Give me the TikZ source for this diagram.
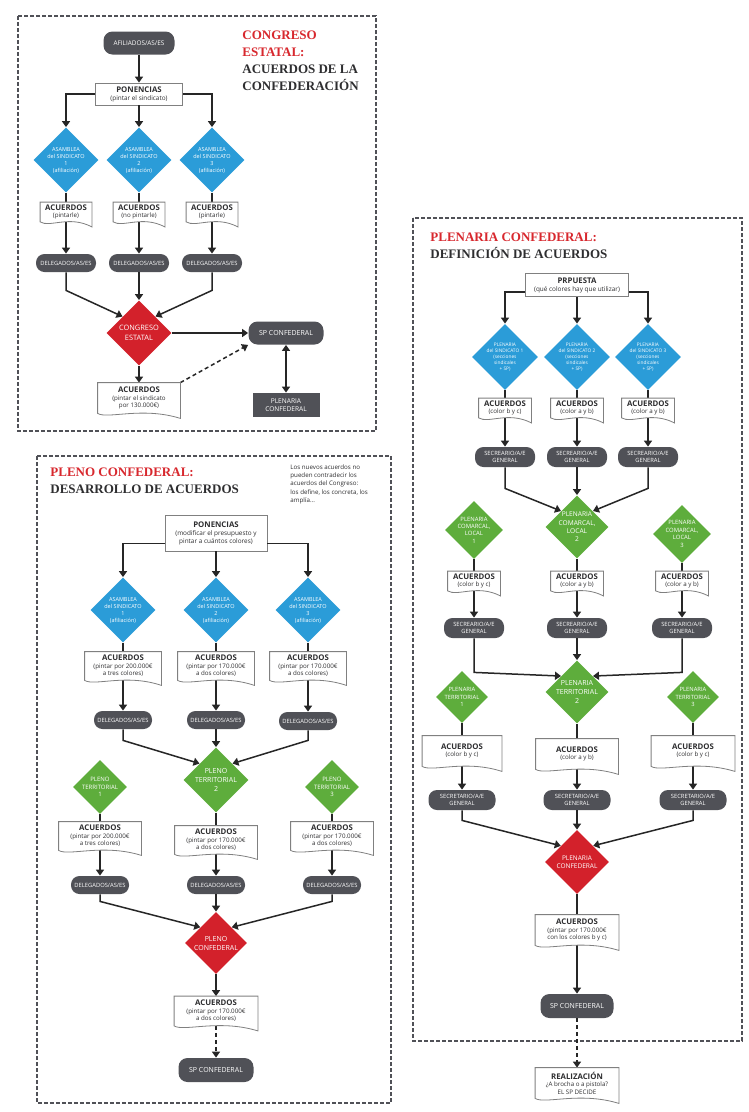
\documentclass[tikz,border=0pt]{standalone}
\usepackage{fontspec}
\setmainfont{Open Sans}
\newfontfamily\serifbold{Liberation Serif}
\usetikzlibrary{shapes.geometric,arrows.meta,calc}

\definecolor{gris}{HTML}{505157}
\definecolor{azulsind}{HTML}{2B9CD8}
\definecolor{verde}{HTML}{5EAD3C}
\definecolor{rojo}{HTML}{D3212B}
\definecolor{rojotit}{HTML}{D8282E}
\definecolor{texto}{HTML}{2E2E30}
\definecolor{borde}{HTML}{808080}

\newcommand{\cabecera}[1]{{\fontsize{7.8}{9}\selectfont\bfseries #1}}

\begin{document}
\begin{tikzpicture}[x=1pt, y=-1pt, auto, thick]
\tikzstyle{marco}=[draw=gris, line width=1.3pt, dash pattern=on 4pt off 2pt]
\tikzstyle{titulo}=[anchor=north west, align=left, inner sep=0pt, text=texto, font=\serifbold\bfseries\fontsize{13}{17}\selectfont]
\tikzstyle{nota}=[anchor=north west, align=left, inner sep=0pt, text=texto, font=\fontsize{6.2}{8.3}\selectfont]
\tikzstyle{pill}=[fill=gris, text=white, rounded corners=8.5pt, align=center, inner sep=1pt, font=\fontsize{5.8}{7}\selectfont]
\tikzstyle{caja}=[draw=borde, line width=0.8pt, fill=white, align=center, inner sep=2pt, text=texto, font=\fontsize{6.4}{8}\selectfont]
\tikzstyle{doc}=[align=center, inner sep=1pt, text=texto, font=\fontsize{6.2}{7.6}\selectfont]
\tikzstyle{docline}=[draw=borde, line width=0.8pt]
\tikzstyle{azul}=[diamond, aspect=1, fill=azulsind, text=white, inner sep=-3pt, align=center, font=\fontsize{5.5}{7}\selectfont, minimum size=65pt]
\tikzstyle{verd}=[azul, fill=verde]
\tikzstyle{roj}=[azul, fill=rojo]
\tikzstyle{flecha}=[line width=1.5pt, draw=black!85, -{Triangle[length=6pt,width=8pt]}]
\tikzstyle{linea}=[line width=1.5pt, draw=black!85]

\fill[white] (0,0) rectangle (748,1112);
\useasboundingbox (0,0) rectangle (748,1112);

% congreso estatal
\draw[marco] (18,16) rectangle (376,431);
\node[titulo] (tit1) at (242,30) {\textcolor{rojotit}{CONGRESO}\\\textcolor{rojotit}{ESTATAL:}\\ACUERDOS DE LA\\CONFEDERACIÓN};
\node[pill, rounded corners=9pt, minimum width=71pt, minimum height=23pt, font=\fontsize{6.4}{7.5}\selectfont] (afi) at (139,43) {AFILIADOS/AS/ES};
\node[caja, minimum width=87pt, minimum height=22pt] (pon1) at (139,94) {\cabecera{PONENCIAS}\\(pintar el sindicato)};
\foreach \place/\name/\num in {{(66,160)/as1/1},{(139,160)/as2/2},{(212,160)/as3/3}}
  \node[azul] (\name) at \place {ASAMBLEA\\del SINDICATO\\\num\\(afiliación)};
\foreach \place/\name/\txt in {{(66,212)/ac1/(pintarle)},{(139,212)/ac2/(no pintarle)},{(212,212)/ac3/(pintarle)}}
  \node[doc, minimum width=51pt, minimum height=19pt] (\name) at \place {\cabecera{ACUERDOS}\\\txt};
\foreach \place/\name in {{(66,263)/de1},{(139,263)/de2},{(212,263)/de3}}
  \node[pill, minimum width=60pt, minimum height=18pt] (\name) at \place {DELEGADOS/AS/ES};
\node[roj, font=\fontsize{7.4}{9.5}\selectfont] (con) at (139,333) {CONGRESO\\ESTATAL};
\node[pill, rounded corners=9pt, minimum width=75pt, minimum height=23pt, font=\fontsize{7}{8}\selectfont] (sp1) at (286,333) {SP CONFEDERAL};
\node[pill, rounded corners=0pt, minimum width=67pt, minimum height=24pt, font=\fontsize{6.6}{8.5}\selectfont] (pl1) at (286,405) {PLENARIA\\CONFEDERAL};
\node[doc, minimum width=82pt, minimum height=30pt] (ac4) at (139,398) {\cabecera{ACUERDOS}\\(pintar el sindicato\\por 130.000€)};

\foreach \source/\dest in {afi/pon1,pon1/as2,ac1/de1,ac2/de2,ac3/de3,de2/con,con/sp1,con/ac4}
  \draw[flecha] (\source) -- (\dest);
\foreach \source/\dest in {as1/ac1,as2/ac2,as3/ac3}
  \draw[linea] (\source) -- (\dest);
\draw[flecha] (pon1.west) -| (as1);
\draw[flecha] (pon1.east) -| (as3);
\draw[flecha] (de1.south) -- ++(0,18) -- (con.north west);
\draw[flecha] (de3.south) -- ++(0,18) -- (con.north east);
\draw[line width=1.5pt, draw=black!85, {Triangle[length=6pt,width=8pt]}-{Triangle[length=6pt,width=8pt]}] (sp1) -- (pl1);
\draw[flecha, dash pattern=on 4pt off 3pt] (ac4.north east) -- (sp1.south west);

% pleno confederal
\draw[marco] (37,456) rectangle (391,1103);
\node[titulo] (tit2) at (50,467) {\textcolor{rojotit}{PLENO CONFEDERAL:}\\DESARROLLO DE ACUERDOS};
\node[nota] (nota) at (290,464) {Los nuevos acuerdos no\\pueden contradecir los\\acuerdos del Congreso:\\los define, los concreta, los\\amplía...};
\node[caja, minimum width=102pt, minimum height=36pt] (pon2) at (216,533) {\cabecera{PONENCIAS}\\(modificar el presupuesto y\\pintar a cuántos colores)};
\foreach \place/\name/\num in {{(123,610)/sb1/1},{(216,610)/sb2/2},{(308,610)/sb3/3}}
  \node[azul] (\name) at \place {ASAMBLEA\\del SINDICATO\\\num\\(afiliación)};
\foreach \place/\name/\txt in {{(123,666)/pa1/(pintar por 200.000€\\a tres colores)},{(216,666)/pa2/(pintar por 170.000€\\a dos colores)},{(308,666)/pa3/(pintar por 170.000€\\a dos colores)}}
  \node[doc, minimum width=76pt, minimum height=28pt] (\name) at \place {\cabecera{ACUERDOS}\\\txt};
\foreach \place/\name in {{(123,720)/dl1},{(216,720)/dl2},{(308,721)/dl3}}
  \node[pill, minimum width=58pt, minimum height=18pt] (\name) at \place {DELEGADOS/AS/ES};
\node[verd, font=\fontsize{7}{9}\selectfont] (pt2) at (216,780) {PLENO\\TERRITORIAL\\2};
\foreach \place/\name/\num in {{(100,787)/pt1/1},{(332,787)/pt3/3}}
  \node[verd, minimum size=54pt, font=\fontsize{6}{7.6}\selectfont] (\name) at \place {PLENO\\TERRITORIAL\\\num};
\foreach \place/\name/\txt in {{(100,836)/pb1/(pintar por 200.000€\\a tres colores)},{(216,840)/pb2/(pintar por 170.000€\\a dos colores)},{(332,836)/pb3/(pintar por 170.000€\\a dos colores)}}
  \node[doc, minimum width=82pt, minimum height=28pt] (\name) at \place {\cabecera{ACUERDOS}\\\txt};
\foreach \place/\name in {{(100,885)/dm1},{(216,885)/dm2},{(332,885)/dm3}}
  \node[pill, minimum width=58pt, minimum height=18pt] (\name) at \place {DELEGADOS/AS/ES};
\node[roj, minimum size=62pt, font=\fontsize{7}{9}\selectfont] (pc) at (216,943) {PLENO\\CONFEDERAL};
\node[doc, minimum width=83pt, minimum height=29pt] (pf) at (216,1011) {\cabecera{ACUERDOS}\\(pintar por 170.000€\\a dos colores)};
\node[pill, rounded corners=9pt, minimum width=75pt, minimum height=24pt, font=\fontsize{7}{8}\selectfont] (sp2) at (216,1070) {SP CONFEDERAL};

\foreach \source/\dest in {pon2/sb2,pa1/dl1,pa2/dl2,pa3/dl3,dl2/pt2,pb1/dm1,pb2/dm2,pb3/dm3,dm2/pc,pc/pf}
  \draw[flecha] (\source) -- (\dest);
\foreach \source/\dest in {sb1/pa1,sb2/pa2,sb3/pa3,pt1/pb1,pt2/pb2,pt3/pb3}
  \draw[linea] (\source) -- (\dest);
\draw[flecha] ($(pon2.south west)+(0,-8)$) -| (sb1);
\draw[flecha] ($(pon2.south east)+(0,-8)$) -| (sb3);
\draw[flecha] (dl1.south) -- ++(0,11) -- (pt2.north west);
\draw[flecha] (dl3.south) -- ++(0,10) -- (pt2.north east);
\draw[flecha] (dm1.south) -- ++(0,7) -- (pc.north west);
\draw[flecha] (dm3.south) -- ++(0,7) -- (pc.north east);
\draw[flecha, dash pattern=on 4pt off 3pt] (pf) -- (sp2);

% plenaria confederal
\draw[marco] (413,218) rectangle (742,1041);
\node[titulo] (tit3) at (430,232) {\textcolor{rojotit}{PLENARIA CONFEDERAL:}\\DEFINICIÓN DE ACUERDOS};
\node[caja, minimum width=103pt, minimum height=23pt] (prp) at (577,285) {\cabecera{PRPUESTA}\\(qué colores hay que utilizar)};
\foreach \place/\name/\num in {{(505,357)/ps1/1},{(577,357)/ps2/2},{(648,357)/ps3/3}}
  \node[azul, minimum size=66pt, font=\fontsize{4.8}{6}\selectfont] (\name) at \place {PLENARIA\\del SINDICATO \num\\(secciones\\sindicales\\+ SP)};
\foreach \place/\name/\txt in {{(505,408)/r1/(color b y c)},{(577,408)/r2/(color a y b)},{(648,408)/r3/(color a y b)}}
  \node[doc, minimum width=52pt, minimum height=19pt] (\name) at \place {\cabecera{ACUERDOS}\\\txt};
\foreach \place/\name in {{(505,457)/s1},{(577,457)/s2},{(648,457)/s3}}
  \node[pill, minimum width=60pt, minimum height=20pt] (\name) at \place {SECREARIO/A/E\\GENERAL};
\node[verd, minimum size=63pt, font=\fontsize{6.6}{8.3}\selectfont] (cl2) at (577,527) {PLENARIA\\COMARCAL,\\LOCAL\\2};
\foreach \place/\name/\num in {{(474,530)/cl1/1},{(682,534)/cl3/3}}
  \node[verd, minimum size=58pt, font=\fontsize{5.9}{7.4}\selectfont] (\name) at \place {PLENARIA\\COMARCAL,\\LOCAL\\\num};
\foreach \place/\name/\txt in {{(474,581)/r4/(color b y c)},{(577,581)/r5/(color a y b)},{(682,581)/r6/(color a y b)}}
  \node[doc, minimum width=52pt, minimum height=19pt] (\name) at \place {\cabecera{ACUERDOS}\\\txt};
\foreach \place/\name in {{(474,628)/t1},{(577,628)/t2},{(682,628)/t3}}
  \node[pill, minimum width=60pt, minimum height=20pt] (\name) at \place {SECREARIO/A/E\\GENERAL};
\node[verd, minimum size=63pt, font=\fontsize{7}{9}\selectfont] (tr2) at (577,692) {PLENARIA\\TERRITORIAL\\2};
\foreach \place/\name/\num in {{(462,697)/tr1/1},{(693,697)/tr3/3}}
  \node[verd, minimum size=52pt, font=\fontsize{5.8}{7.8}\selectfont] (\name) at \place {PLENARIA\\TERRITORIAL\\\num};
\node[doc, minimum width=79pt, minimum height=30pt] (r7) at (462,751) {\cabecera{ACUERDOS}\\(color b y c)};
\node[doc, minimum width=82pt, minimum height=30pt] (r8) at (577,754) {\cabecera{ACUERDOS}\\(color a y b)};
\node[doc, minimum width=83pt, minimum height=30pt] (r9) at (693,751) {\cabecera{ACUERDOS}\\(color b y c)};
\foreach \place/\name in {{(462,800)/u1},{(577,800)/u2},{(693,800)/u3}}
  \node[pill, minimum width=67pt, minimum height=20pt] (\name) at \place {SECRETARIO/A/E\\GENERAL};
\node[roj, minimum size=64pt, font=\fontsize{6.5}{8.5}\selectfont] (pcr) at (577,862) {PLENARIA\\CONFEDERAL};
\node[doc, minimum width=83pt, minimum height=30pt] (r10) at (577,930) {\cabecera{ACUERDOS}\\(pintar por 170.000€\\con los colores b y c)};
\node[pill, rounded corners=9pt, minimum width=73pt, minimum height=24pt, font=\fontsize{7}{8}\selectfont] (sp3) at (577,1006) {SP CONFEDERAL};
\node[doc, minimum width=83pt, minimum height=30pt] (real) at (577,1083) {\cabecera{REALIZACIÓN}\\¿A brocha o a pistola?\\EL SP DECIDE};

\foreach \source/\dest in {prp/ps2,r1/s1,r2/s2,r3/s3,s2/cl2,r4/t1,r5/t2,r6/t3,t2/tr2,r7/u1,r8/u2,r9/u3,u2/pcr,r10/sp3}
  \draw[flecha] (\source) -- (\dest);
\foreach \source/\dest in {ps1/r1,ps2/r2,ps3/r3,cl1/r4,cl2/r5,cl3/r6,tr1/r7,tr2/r8,tr3/r9,pcr/r10}
  \draw[linea] (\source) -- (\dest);
\draw[flecha] ($(prp.south west)+(0,-5)$) -| (ps1);
\draw[flecha] ($(prp.south east)+(0,-5)$) -| (ps3);
\draw[flecha] (s1.south) -- ++(0,21) -- (cl2.north west);
\draw[flecha] (s3.south) -- ++(0,21) -- (cl2.north east);
\draw[flecha] (t1.south) -- ++(0,34) -- (tr2.north west);
\draw[flecha] (t3.south) -- ++(0,34) -- (tr2.north east);
\draw[flecha] (u1.south) -- ++(0,10) -- (pcr.north west);
\draw[flecha] (u3.south) -- ++(0,10) -- (pcr.north east);
\draw[flecha, dash pattern=on 4pt off 3pt] (sp3) -- (real);

% hojas de acuerdos
\foreach \d in {ac1,ac2,ac3,ac4,pa1,pa2,pa3,pb1,pb2,pb3,pf,r1,r2,r3,r4,r5,r6,r7,r8,r9,r10,real}
  \draw[docline] (\d.north west) -- (\d.north east) -- ($(\d.south east)+(0,5)$) .. controls ($(\d.south)+(3,-7)$) and ($(\d.south west)+(10,6)$) .. (\d.south west) -- cycle;
\end{tikzpicture}
\end{document}
